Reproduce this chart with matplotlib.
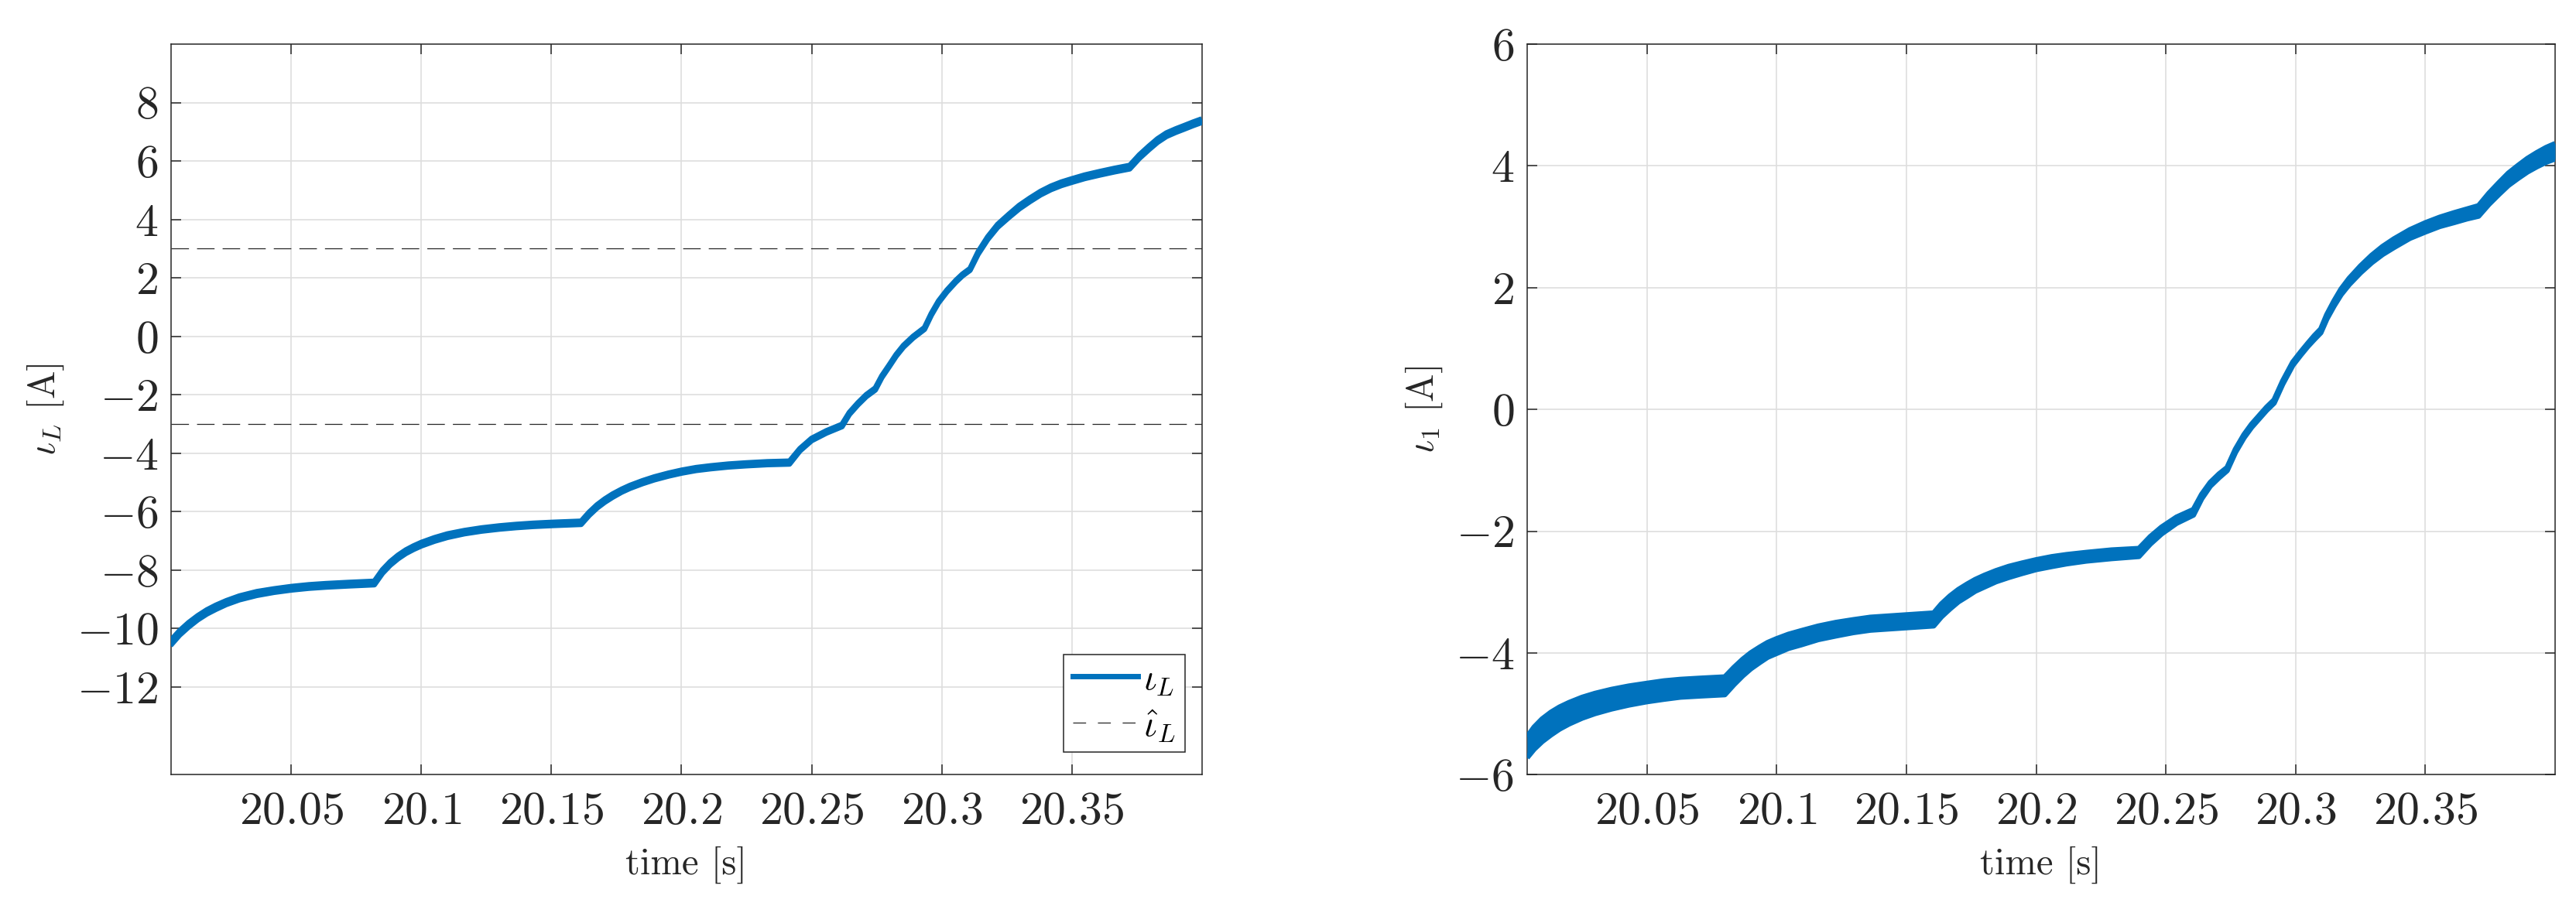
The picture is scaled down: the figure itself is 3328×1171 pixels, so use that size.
import numpy as np
import matplotlib
matplotlib.use("Agg")
import matplotlib.pyplot as plt
from matplotlib.lines import Line2D

plt.rcParams['font.family'] = 'serif'
plt.rcParams['font.serif'] = ['cmr10', 'DejaVu Serif']
plt.rcParams['mathtext.fontset'] = 'cm'
plt.rcParams['axes.formatter.use_mathtext'] = True
plt.rcParams['lines.scale_dashes'] = False

# ---------------- data ----------------
t_L = [20.0035, 20.0070, 20.0105, 20.0140, 20.0175, 20.0210, 20.0250, 20.0300, 20.0367,
       20.0433, 20.0500, 20.0567, 20.0633, 20.0720, 20.0819,
       20.0850, 20.0880, 20.0910, 20.0940, 20.0970, 20.1000, 20.1050, 20.1100,
       20.1165, 20.1231, 20.1300, 20.1364, 20.1430, 20.1500, 20.1614,
       20.1645, 20.1675, 20.1705, 20.1735, 20.1770, 20.1802, 20.1850, 20.1895,
       20.1950, 20.2000, 20.2056, 20.2112, 20.2180, 20.2247, 20.2330, 20.2415,
       20.2455, 20.2500, 20.2557, 20.2617,
       20.2645, 20.2678, 20.2710, 20.2745,
       20.2770, 20.2799, 20.2825, 20.2853, 20.2890, 20.2934,
       20.2960, 20.2988, 20.3020, 20.3055, 20.3080, 20.3109,
       20.3140, 20.3177, 20.3215, 20.3258, 20.3298, 20.3339, 20.3380, 20.3420,
       20.3460, 20.3500, 20.3550, 20.3608, 20.3665, 20.3723,
       20.3760, 20.3797, 20.3830, 20.3864, 20.3900, 20.3932, 20.3966, 20.4000]
iL_mid = [-10.50, -10.15, -9.87, -9.63, -9.43, -9.27, -9.11, -8.95, -8.80,
          -8.70, -8.62, -8.56, -8.52, -8.48, -8.44,
          -8.05, -7.77, -7.55, -7.37, -7.23, -7.11, -6.95, -6.82,
          -6.70, -6.61, -6.54, -6.49, -6.45, -6.42, -6.38,
          -6.07, -5.82, -5.62, -5.45, -5.28, -5.15, -4.99, -4.86,
          -4.73, -4.63, -4.54, -4.48, -4.42, -4.38, -4.34, -4.32,
          -3.88, -3.53, -3.27, -3.05,
          -2.64, -2.31, -2.03, -1.80,
          -1.38, -1.00, -0.65, -0.34, -0.03, 0.27,
          0.75, 1.18, 1.55, 1.89, 2.10, 2.29,
          2.85, 3.36, 3.78, 4.12, 4.42, 4.67, 4.90, 5.08,
          5.22, 5.33, 5.46, 5.58, 5.69, 5.79,
          6.15, 6.45, 6.70, 6.90, 7.04, 7.15, 7.27, 7.38]
iL_ripple = [0.16, 0.15, 0.15, 0.14, 0.14, 0.14, 0.13, 0.13, 0.13,
             0.12, 0.12, 0.12, 0.12, 0.12, 0.12,
             0.12, 0.12, 0.12, 0.12, 0.12, 0.12, 0.12, 0.12,
             0.11, 0.11, 0.11, 0.11, 0.11, 0.11, 0.11,
             0.11, 0.11, 0.11, 0.11, 0.10, 0.10, 0.10, 0.10,
             0.10, 0.10, 0.10, 0.10, 0.10, 0.10, 0.10, 0.10,
             0.08, 0.08, 0.08, 0.08,
             0.07, 0.07, 0.07, 0.07,
             0.06, 0.06, 0.06, 0.06, 0.06, 0.06,
             0.06, 0.06, 0.06, 0.06, 0.06, 0.06,
             0.08, 0.09, 0.10, 0.11, 0.12, 0.12, 0.12, 0.12,
             0.12, 0.12, 0.12, 0.12, 0.12, 0.12,
             0.12, 0.12, 0.12, 0.12, 0.12, 0.12, 0.12, 0.12]
iL_hat = [3.0, -3.0]

t_1 = [20.0038, 20.0065, 20.0096, 20.0130, 20.0163, 20.0200, 20.0250, 20.0300, 20.0363,
       20.0430, 20.0500, 20.0565, 20.0629, 20.0710, 20.0800,
       20.0835, 20.0869, 20.0900, 20.0935, 20.0965, 20.0998, 20.1045, 20.1095,
       20.1160, 20.1228, 20.1295, 20.1361, 20.1430, 20.1500, 20.1605,
       20.1635, 20.1668, 20.1700, 20.1734, 20.1765, 20.1801, 20.1845, 20.1894,
       20.1945, 20.2000, 20.2060, 20.2118, 20.2193, 20.2290, 20.2396,
       20.2440, 20.2483, 20.2541, 20.2606,
       20.2638, 20.2671, 20.2705, 20.2736,
       20.2768, 20.2801, 20.2830, 20.2859, 20.2888, 20.2917,
       20.2950, 20.2989, 20.3020, 20.3047, 20.3072, 20.3097,
       20.3120, 20.3148, 20.3175, 20.3206, 20.3250, 20.3293, 20.3335, 20.3379,
       20.3440, 20.3500, 20.3555, 20.3611, 20.3660, 20.3705,
       20.3745, 20.3784, 20.3820, 20.3857, 20.3893, 20.3929, 20.3965, 20.4000]
i1_mid = [-5.55, -5.40, -5.27, -5.16, -5.07, -4.99, -4.90, -4.83, -4.76,
          -4.70, -4.65, -4.61, -4.58, -4.56, -4.54,
          -4.38, -4.24, -4.13, -4.03, -3.95, -3.89, -3.81, -3.75,
          -3.67, -3.61, -3.56, -3.52, -3.50, -3.48, -3.45,
          -3.30, -3.17, -3.06, -2.97, -2.89, -2.82, -2.74, -2.67,
          -2.61, -2.55, -2.50, -2.46, -2.42, -2.38, -2.35,
          -2.15, -1.99, -1.82, -1.69,
          -1.43, -1.23, -1.09, -0.98,
          -0.68, -0.44, -0.27, -0.13, 0.01, 0.13,
          0.44, 0.75, 0.92, 1.06, 1.18, 1.29,
          1.52, 1.74, 1.93, 2.10, 2.30, 2.47, 2.61, 2.73,
          2.88, 2.99, 3.08, 3.15, 3.21, 3.26,
          3.46, 3.63, 3.78, 3.90, 4.01, 4.10, 4.18, 4.24]
i1_ripple = [0.34, 0.36, 0.37, 0.37, 0.36, 0.35, 0.34, 0.33, 0.32,
             0.31, 0.30, 0.30, 0.29, 0.29, 0.29,
             0.28, 0.27, 0.26, 0.25, 0.24, 0.24, 0.23, 0.23,
             0.22, 0.22, 0.21, 0.21, 0.21, 0.21, 0.21,
             0.21, 0.21, 0.20, 0.20, 0.19, 0.19, 0.18, 0.18,
             0.17, 0.16, 0.16, 0.15, 0.14, 0.14, 0.13,
             0.12, 0.11, 0.10, 0.09,
             0.07, 0.06, 0.06, 0.05,
             0.05, 0.05, 0.05, 0.05, 0.05, 0.05,
             0.05, 0.05, 0.05, 0.05, 0.06, 0.06,
             0.07, 0.08, 0.09, 0.10, 0.11, 0.12, 0.13, 0.14,
             0.14, 0.15, 0.15, 0.16, 0.16, 0.17,
             0.18, 0.19, 0.20, 0.21, 0.22, 0.23, 0.24, 0.25]

xticks = [20.05, 20.1, 20.15, 20.2, 20.25, 20.3, 20.35]
xtick_labels = ['20.05', '20.1', '20.15', '20.2', '20.25', '20.3', '20.35']
yticks_L = [-12, -10, -8, -6, -4, -2, 0, 2, 4, 6, 8]
yticks_1 = [-6, -4, -2, 0, 2, 4, 6]

# ---------------- style ----------------
BLUE = '#0072BD'
DARK = '#262626'
GRID = '#dedede'
LW = 5.0          # points
TICK_FS = 43
LABEL_FS = 35
LEG_FS = 34

W, H = 3328, 1171
fig = plt.figure(figsize=(W / 100, H / 100), dpi=100)

axL = fig.add_axes([221 / W, (H - 1001.3) / H, 1331.6 / W, 944.3 / H])
axR = fig.add_axes([1972.7 / W, (H - 1001.3) / H, 1328.3 / W, 944.3 / H])


def draw_band(ax, t, mid, rip):
    t = np.asarray(t)
    mid = np.asarray(mid)
    rip = np.asarray(rip)
    lo = mid - rip / 2
    hi = mid + rip / 2
    ax.fill_between(t, lo, hi, color=BLUE, lw=0, zorder=3)
    ax.plot(t, lo, color=BLUE, lw=LW, solid_joinstyle='round', solid_capstyle='butt', zorder=3)
    ax.plot(t, hi, color=BLUE, lw=LW, solid_joinstyle='round', solid_capstyle='butt', zorder=3)


def style(ax, yticks, ylim):
    ax.set_xlim(20.00375, 20.4)
    ax.set_ylim(*ylim)
    ax.set_xticks(xticks)
    ax.set_xticklabels(['$' + s + '$' for s in xtick_labels])
    ax.set_yticks(yticks)
    ax.set_yticklabels(['$%d$' % v for v in yticks])
    ax.grid(True, color=GRID, lw=1.2, zorder=0)
    ax.set_axisbelow(True)
    ax.tick_params(direction='in', length=9.6, width=1.1, colors=DARK,
                   top=True, right=True, labelsize=TICK_FS)
    ax.tick_params(axis='x', pad=16)
    ax.tick_params(axis='y', pad=12)
    for s in ax.spines.values():
        s.set_color(DARK)
        s.set_linewidth(1.1)
    ax.set_xlabel('time [s]', fontsize=LABEL_FS, color=DARK, labelpad=12)


# left
draw_band(axL, t_L, iL_mid, iL_ripple)
for v in iL_hat:
    axL.axhline(v, color=DARK, lw=0.9, linestyle=(0, (16.3, 7.5)), zorder=2)
style(axL, yticks_L, (-15, 10))
axL.set_ylabel(r'$\iota_L$ [A]', fontsize=LABEL_FS, color=DARK, labelpad=10)

handles = [Line2D([], [], color=BLUE, lw=LW),
           Line2D([], [], color=DARK, lw=0.9, linestyle=(0, (12, 11)))]
leg = axL.legend(handles, [r'$\iota_L$', r'$\hat{\iota}_L$'], loc='lower right',
                 bbox_to_anchor=(0.984, 0.0307), borderaxespad=0,
                 fontsize=LEG_FS, fancybox=False, framealpha=1,
                 edgecolor=DARK, handlelength=1.78, handletextpad=0.16,
                 borderpad=0.25, labelspacing=0.3)
leg.get_frame().set_linewidth(1.1)

# right
draw_band(axR, t_1, i1_mid, i1_ripple)
style(axR, yticks_1, (-6, 6))
axR.set_ylabel(r'$\iota_1$ [A]', fontsize=LABEL_FS, color=DARK, labelpad=10)

fig.savefig('out.png', dpi=100, facecolor='white')
